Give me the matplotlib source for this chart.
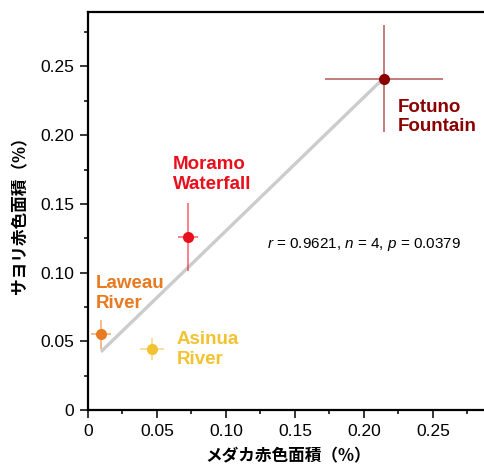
import numpy as np
import matplotlib
matplotlib.use("Agg")
import matplotlib.pyplot as plt
from matplotlib.ticker import MultipleLocator

plt.rcParams['font.family'] = ['Liberation Sans', 'Noto Sans CJK JP', 'DejaVu Sans']
plt.rcParams['mathtext.fontset'] = 'custom'
plt.rcParams['mathtext.rm'] = 'Liberation Sans'
plt.rcParams['mathtext.it'] = 'Liberation Sans:italic'

# data
sites = ["Laweau\nRiver", "Asinua\nRiver", "Moramo\nWaterfall", "Fotuno\nFountain"]
medaka = [0.0094, 0.0466, 0.0725, 0.2145]     # x
sayori = [0.055, 0.0442, 0.126, 0.241]        # y
medaka_err = [0.0075, 0.0088, 0.0074, 0.043]
sayori_err = [0.0105, 0.008, 0.0245, 0.039]
colors = ["#e87a22", "#f2c230", "#e8101c", "#8b0000"]
label_xy = [(0.0058, 0.098), (0.0642, 0.0575), (0.0616, 0.1845), (0.2246, 0.2265)]
stat_text = r"$\it{r}$ = 0.9621, $\it{n}$ = 4, $\it{p}$ = 0.0379"

fig = plt.figure(figsize=(4.85, 4.68), dpi=100)
ax = fig.add_axes([88 / 485, 58 / 468, 400 / 485, 398.5 / 468])

# regression line
k, b = np.polyfit(medaka, sayori, 1)
xs = np.array([min(medaka), max(medaka)])
ax.plot(xs, k * xs + b, color="#cccccc", lw=2.4, zorder=1, solid_capstyle="butt")

for i in range(len(sites)):
    ax.errorbar(medaka[i], sayori[i], xerr=medaka_err[i], yerr=sayori_err[i],
                fmt="none", ecolor=colors[i], elinewidth=1.1, alpha=0.65, zorder=2)
    ax.plot(medaka[i], sayori[i], "o", color=colors[i], ms=8, mec="none", zorder=3)
    ax.text(label_xy[i][0], label_xy[i][1], sites[i], color=colors[i], fontsize=13.5,
            fontweight="bold", ha="left", va="top", linespacing=1.2)

ax.text(0.1297, 0.118, stat_text, fontsize=11, ha="left", va="baseline")

ax.set_xlim(0, 0.29)
ax.set_ylim(0, 0.29)
ax.xaxis.set_minor_locator(MultipleLocator(0.025))
ax.yaxis.set_minor_locator(MultipleLocator(0.025))
ticks = [0, 0.05, 0.10, 0.15, 0.20, 0.25]
ticklabels = ["0", "0.05", "0.10", "0.15", "0.20", "0.25"]
ax.set_xticks(ticks)
ax.set_xticklabels(ticklabels)
ax.set_yticks(ticks)
ax.set_yticklabels(ticklabels)
ax.tick_params(which="major", direction="out", length=6, width=1.1, labelsize=12.5, pad=4)
ax.tick_params(which="minor", direction="out", length=3, width=1.1)
for s in ax.spines.values():
    s.set_linewidth(1.6)

ax.set_xlabel("メダカ赤色面積（%）", fontsize=12, fontweight="bold",
              family=['Noto Sans CJK JP', 'DejaVu Sans'], labelpad=6)
ax.set_ylabel("サヨリ赤色面積（%）", fontsize=12, fontweight="bold",
              family=['Noto Sans CJK JP', 'DejaVu Sans'], labelpad=8)

fig.savefig("out.png", dpi=100)
